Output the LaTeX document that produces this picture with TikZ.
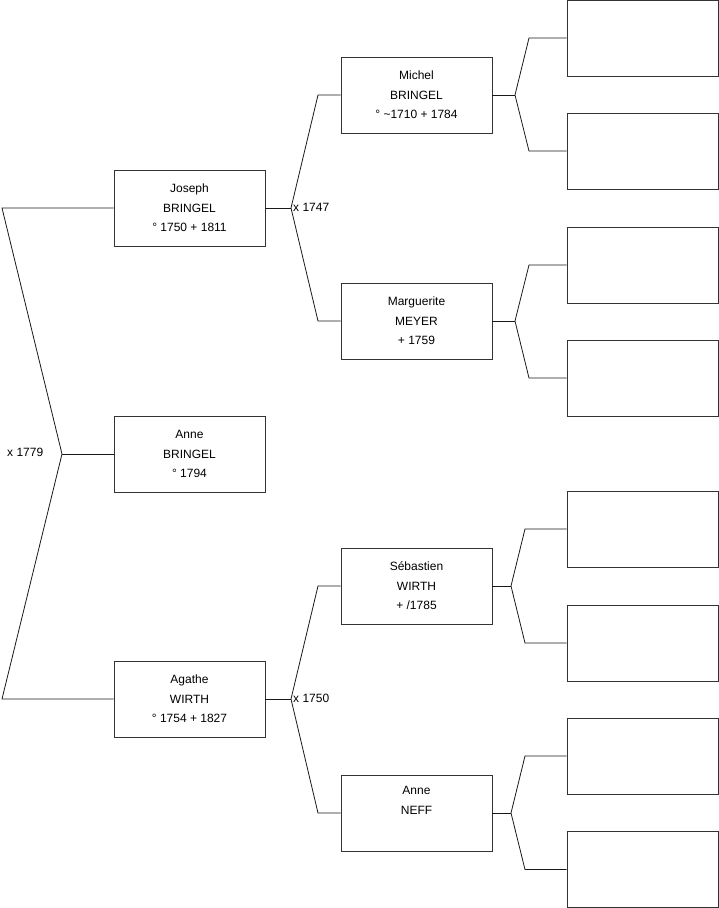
\documentclass[tikz,border=0pt]{standalone}
\usepackage{fontspec}
\setmainfont{Liberation Sans}
\begin{document}
\begin{tikzpicture}[x=1pt,y=-1pt,
  person/.style={draw=black!80,line width=0.8pt,rectangle,minimum width=151pt,minimum height=76pt,inner sep=0pt,align=center,font=\fontsize{12}{19.5}\selectfont},
  link/.style={draw=black!90,line width=0.8pt},
  lbl/.style={font=\fontsize{12}{14}\selectfont,inner sep=0pt,anchor=west}]
\useasboundingbox (0,0) rectangle (719,908);
% generation 1
\node[person] (anne) at (189.5,454) {Anne\\BRINGEL\\° 1794};
% generation 2
\node[person] (joseph) at (189.5,208) {Joseph\\BRINGEL\\° 1750 + 1811};
\node[person] (agathe) at (189.5,699) {Agathe\\WIRTH\\° 1754 + 1827};
% generation 3
\node[person] (michel) at (416.5,95) {Michel\\BRINGEL\\° \textasciitilde1710 + 1784};
\node[person] (marg) at (416.5,321) {Marguerite\\MEYER\\ + 1759};
\node[person] (seb) at (416.5,586) {Sébastien\\WIRTH\\ + /1785};
\node[person] (neff) at (416.5,813) {Anne\\NEFF\\\strut};
% generation 4
\node[person] (r1) at (642.5,38) {};
\node[person] (r2) at (642.5,151) {};
\node[person] (r3) at (642.5,265) {};
\node[person] (r4) at (642.5,378) {};
\node[person] (r5) at (642.5,529) {};
\node[person] (r6) at (642.5,643) {};
\node[person] (r7) at (642.5,756) {};
\node[person] (r8) at (642.5,869.5) {};
% fork points
\coordinate (a1) at (2,208);
\coordinate (a2) at (62,454);
\coordinate (a3) at (2,699);
\coordinate (j0) at (291,208);
\coordinate (j1) at (318,95);
\coordinate (j2) at (318,321);
\coordinate (g0) at (291,699);
\coordinate (g1) at (318,586);
\coordinate (g2) at (318,813);
\coordinate (m0) at (515,95);
\coordinate (m1) at (529,38);
\coordinate (m2) at (529,151);
\coordinate (p0) at (515,321);
\coordinate (p1) at (529,265);
\coordinate (p2) at (529,378);
\coordinate (s0) at (511,586);
\coordinate (s1) at (525,529);
\coordinate (s2) at (525,643);
\coordinate (n0) at (511,813);
\coordinate (n1) at (525,756);
\coordinate (n2) at (525,869.5);
% connectors
\draw[link] (joseph.west) -- (a1) -- (a2) -- (a3) -- (agathe.west);
\draw[link] (a2) -- (anne.west);
\draw[link] (joseph.east) -- (j0);
\draw[link] (michel.west) -- (j1) -- (j0) -- (j2) -- (marg.west);
\draw[link] (agathe.east) -- (g0);
\draw[link] (seb.west) -- (g1) -- (g0) -- (g2) -- (neff.west);
\draw[link] (michel.east) -- (m0);
\draw[link] (r1.west) -- (m1) -- (m0) -- (m2) -- (r2.west);
\draw[link] (marg.east) -- (p0);
\draw[link] (r3.west) -- (p1) -- (p0) -- (p2) -- (r4.west);
\draw[link] (seb.east) -- (s0);
\draw[link] (r5.west) -- (s1) -- (s0) -- (s2) -- (r6.west);
\draw[link] (neff.east) -- (n0);
\draw[link] (r7.west) -- (n1) -- (n0) -- (n2) -- (r8.west);
% marriage labels
\node[lbl] (x1) at (7,452) {x 1779};
\node[lbl] (x2) at (293,207) {x 1747};
\node[lbl] (x3) at (293,698) {x 1750};
\end{tikzpicture}
\end{document}
